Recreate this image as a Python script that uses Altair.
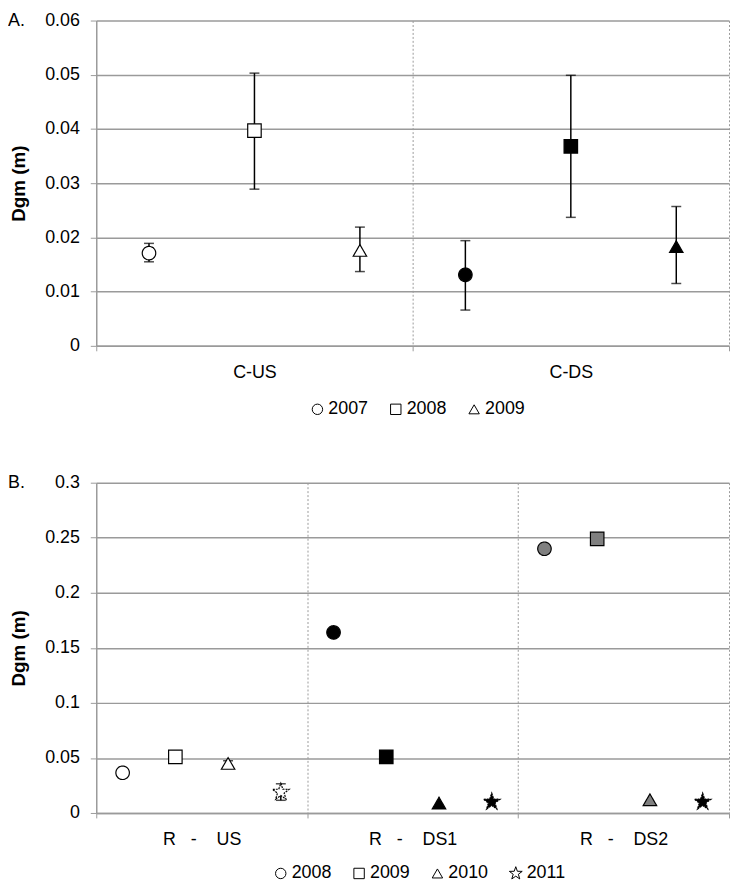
import altair as alt
import pandas as pd

FONT = "Liberation Sans"
GRID = "#9a9a9a"

# ---------------- Panel A data ----------------
sites_a = ["C-US", "C-DS"]
years_a = ["2007", "2008", "2009"]
site_col_a = ["C-US", "C-US", "C-US", "C-DS", "C-DS", "C-DS"]
year_col_a = ["2007", "2008", "2009", "2007", "2008", "2009"]
dgm_a = [0.0171, 0.0397, 0.0176, 0.0131, 0.0368, 0.0183]
lo_a = [0.0155, 0.0289, 0.0137, 0.0066, 0.0237, 0.0115]
hi_a = [0.0189, 0.0503, 0.0219, 0.0194, 0.0499, 0.0257]
yticks_a = [0, 0.01, 0.02, 0.03, 0.04, 0.05, 0.06]

# ---------------- Panel B data ----------------
sites_b = ["R - US", "R - DS1", "R - DS2"]
years_b = ["2008", "2009", "2010", "2011"]
site_col_b = ["R - US"] * 4 + ["R - DS1"] * 4 + ["R - DS2"] * 4
year_col_b = years_b * 3
dgm_b = [0.0365, 0.051, 0.045, 0.019,
         0.164, 0.051, 0.009, 0.010,
         0.240, 0.249, 0.012, 0.010]
lo_b = [0.0335, 0.0500, 0.0425, 0.0115,
        None, None, None, None,
        None, None, None, None]
hi_b = [0.0395, 0.0520, 0.0475, 0.0265,
        None, None, None, None,
        None, None, None, None]
yticks_b = [0, 0.05, 0.1, 0.15, 0.2, 0.25, 0.3]

STAR = ("M0,-1.3L0.306,-0.421L1.236,-0.402L0.494,0.161L0.764,1.052L0,0.52"
        "L-0.764,1.052L-0.494,0.161L-1.236,-0.402L-0.306,-0.421Z")

df_a = pd.DataFrame({"site": site_col_a, "year": year_col_a,
                     "dgm": dgm_a, "lo": lo_a, "hi": hi_a})
df_b = pd.DataFrame({"site": site_col_b, "year": year_col_b,
                     "dgm": dgm_b, "lo": lo_b, "hi": hi_b})


def panel(df, sites, years, shapes, yticks, ymax, height, letter,
          fill_expr, legend_x, legend_y, label_expr=None):
    x_axis_kw = dict(tickBand="extent", grid=True, gridDash=[2, 2],
                     gridColor=GRID, gridWidth=1, domainColor=GRID,
                     domainWidth=1.5, tickColor=GRID, tickSize=5,
                     labelFontSize=18, labelPadding=13, labelAngle=0,
                     labelColor="black",
                     gridOpacity={"condition": {"test": "datum.extra",
                                                "value": 0}, "value": 1})
    if label_expr:
        x_axis_kw["labelExpr"] = label_expr
    x = alt.X("site:N", sort=sites, title=None,
              scale=alt.Scale(paddingInner=0, paddingOuter=0),
              axis=alt.Axis(**x_axis_kw))
    xo = alt.XOffset("year:N", sort=years,
                     scale=alt.Scale(paddingInner=0, paddingOuter=0))
    y_axis = alt.Axis(values=yticks, format="~g", grid=True, gridColor=GRID,
                      gridWidth=1.5, domainColor=GRID, domainWidth=1.5,
                      tickColor=GRID, tickSize=6, labelFontSize=18,
                      labelPadding=11, minExtent=56, maxExtent=56,
                      titleFontSize=19, titleFontWeight="bold",
                      titlePadding=12, labelColor="black", titleColor="black")

    def yenc(field):
        return alt.Y(field, title="Dgm (m)",
                     scale=alt.Scale(domain=[0, ymax], nice=False),
                     axis=y_axis)

    base = alt.Chart(df)
    err = base.transform_filter("isValid(datum.lo)")
    rules = err.mark_rule(color="black", strokeWidth=1.5).encode(
        x=x, xOffset=xo, y=yenc("lo:Q"), y2="hi:Q")
    cap_lo = err.mark_tick(color="black", thickness=1.5, size=10).encode(
        x=x, xOffset=xo, y=yenc("lo:Q"))
    cap_hi = err.mark_tick(color="black", thickness=1.5, size=10).encode(
        x=x, xOffset=xo, y=yenc("hi:Q"))
    points = base.transform_calculate(fillkey=fill_expr).mark_point(
        filled=True, size=185, stroke="black", strokeWidth=1.2, opacity=1
    ).encode(
        x=x, xOffset=xo, y=yenc("dgm:Q"),
        shape=alt.Shape("year:N", sort=years, title=None,
                        scale=alt.Scale(domain=years, range=shapes),
                        legend=alt.Legend(orient="none", direction="horizontal",
                                          legendX=legend_x, legendY=legend_y,
                                          symbolFillColor="white",
                                          symbolStrokeColor="black",
                                          symbolStrokeWidth=1, symbolSize=110,
                                          labelFontSize=18, labelFont=FONT,
                                          labelColor="black", labelOffset=2,
                                          columnPadding=18)),
        fill=alt.Fill("fillkey:N", legend=None,
                      scale=alt.Scale(domain=["open", "solid", "gray"],
                                      range=["white", "black", "#808080"])),
        strokeDash=alt.condition("datum.year == '2011'",
                                 alt.value([2, 1]), alt.value([1, 0])),
    )
    tag = alt.Chart(pd.DataFrame({"t": [letter]})).mark_text(
        align="left", baseline="middle", fontSize=18, font=FONT, color="black"
    ).encode(text="t:N", x=alt.value(-89), y=alt.value(0))
    return alt.layer(rules, cap_lo, cap_hi, points, tag).properties(
        width=638, height=height)


chart_a = panel(df_a, sites_a, years_a, ["circle", "square", "triangle-up"],
                yticks_a, 0.06, 328, "A.",
                "datum.site == 'C-US' ? 'open' : 'solid'", 214, 383)

label_b = ("replace(datum.label, ' - ', "
           "'\u00a0\u00a0\u00a0-\u00a0\u00a0\u00a0\u00a0')")
chart_b = panel(df_b, sites_b, years_b,
                ["circle", "square", "triangle-up", STAR],
                yticks_b, 0.3, 333, "B.",
                "datum.site == 'R - US' ? 'open' : "
                "((datum.site == 'R - DS2' && datum.year != '2011') ? 'gray' : 'solid')",
                177, 385, label_expr=label_b)

chart = alt.vconcat(chart_a, chart_b, spacing=56).resolve_scale(
    x="independent", y="independent", xOffset="independent",
    shape="independent", fill="independent", strokeDash="independent"
).resolve_legend(shape="independent").properties(
    padding={"left": 0, "top": 0, "right": 0, "bottom": 0}
).configure_axis(
    labelFont=FONT, titleFont=FONT
).configure_view(strokeWidth=0)

chart.save("out.html", embed_options={"renderer": "svg", "actions": False})
